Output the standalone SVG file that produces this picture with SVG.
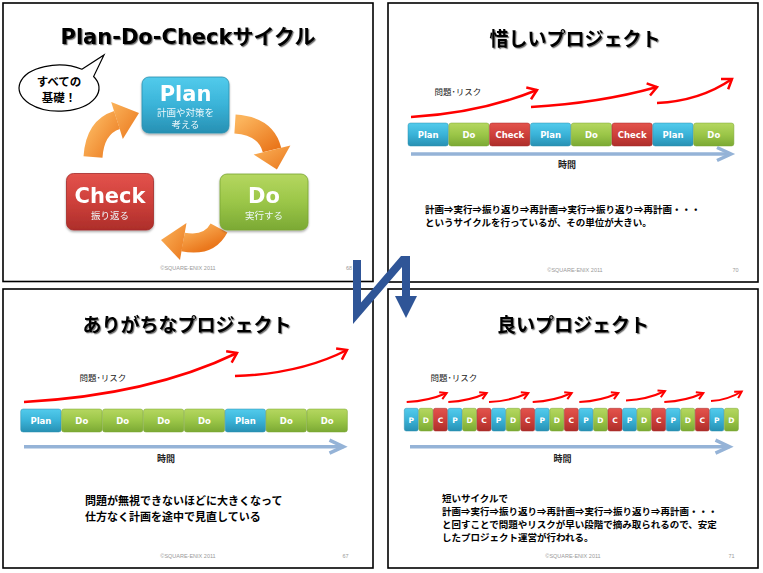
<svg xmlns="http://www.w3.org/2000/svg" width="763" height="573" viewBox="0 0 763 573">
<style>
.panel{fill:#fff;stroke:#000;stroke-width:1.6}
.ttl{font-family:"DejaVu Sans","Noto Sans CJK JP",sans-serif;font-weight:bold;font-size:21px;fill:#000;text-anchor:middle}
.jttl{font-family:"Noto Sans CJK JP",sans-serif;font-weight:bold;font-size:19px;fill:#000;text-anchor:middle}
.big{font-family:"DejaVu Sans",sans-serif;font-weight:bold;font-size:21px;fill:#fff;text-anchor:middle}
.sub{font-family:"Noto Sans CJK JP",sans-serif;font-size:9.5px;fill:#eef8fb;text-anchor:middle}
.bub{font-family:"Noto Sans CJK JP",sans-serif;font-weight:bold;font-size:11.5px;fill:#000;text-anchor:middle}
.blk{font-family:"DejaVu Sans",sans-serif;font-weight:bold;font-size:8.5px;fill:#fff;text-anchor:middle}
.sblk{font-family:"DejaVu Sans",sans-serif;font-weight:bold;font-size:7.5px;fill:#fff;text-anchor:middle}
.risk{font-family:"Noto Sans CJK JP",sans-serif;font-size:8.5px;fill:#222;text-anchor:middle}
.time{font-family:"Noto Sans CJK JP",sans-serif;font-weight:bold;font-size:9px;fill:#222;text-anchor:middle}
.body{font-family:"Noto Sans CJK JP",sans-serif;font-weight:bold;font-size:9.5px;fill:#000}
.body2{font-family:"Noto Sans CJK JP",sans-serif;font-weight:bold;font-size:11px;fill:#000}
.foot{font-family:"Liberation Sans",sans-serif;font-size:5.5px;fill:#999;text-anchor:middle}
.risk-ar{fill:none;stroke:#ff0000;stroke-width:2.5;marker-end:url(#mRed)}
.risk-sm{fill:none;stroke:#ff0000;stroke-width:2;marker-end:url(#mRedS)}
.time-ar{fill:none;stroke:#95B3D7;stroke-width:3.5;marker-end:url(#mTime)}
.bP{fill:url(#gBlue);stroke:#2a8fae;stroke-width:0.5}
.bD{fill:url(#gGreen);stroke:#79a532;stroke-width:0.5}
.bC{fill:url(#gRed);stroke:#a52b28;stroke-width:0.5}
.orng{fill:none;stroke:url(#gOrange);stroke-width:19}
.orngh{fill:url(#gOrange)}
</style>
<defs>
<linearGradient id="gBlue" x1="0" y1="0" x2="0" y2="1"><stop offset="0" stop-color="#52CBEC"/><stop offset="0.5" stop-color="#3AB3D8"/><stop offset="1" stop-color="#2790B3"/></linearGradient>
<linearGradient id="gGreen" x1="0" y1="0" x2="0" y2="1"><stop offset="0" stop-color="#B5D760"/><stop offset="0.5" stop-color="#9BC648"/><stop offset="1" stop-color="#7BA934"/></linearGradient>
<linearGradient id="gRed" x1="0" y1="0" x2="0" y2="1"><stop offset="0" stop-color="#E3534C"/><stop offset="0.5" stop-color="#CE403B"/><stop offset="1" stop-color="#AD2E2A"/></linearGradient>
<linearGradient id="gOrange" x1="0" y1="0" x2="1" y2="1"><stop offset="0" stop-color="#FBB45C"/><stop offset="1" stop-color="#EA771C"/></linearGradient>
<filter id="tsh" x="-10%" y="-30%" width="120%" height="160%"><feDropShadow dx="1.2" dy="1.2" stdDeviation="0.7" flood-color="#000" flood-opacity="0.55"/></filter>
<filter id="bsh" x="-10%" y="-10%" width="120%" height="130%"><feDropShadow dx="0" dy="1.5" stdDeviation="1" flood-color="#000" flood-opacity="0.35"/></filter>
<marker id="mRed" viewBox="-12 -8 14 16" refX="0" refY="0" markerWidth="14" markerHeight="16" orient="auto" markerUnits="userSpaceOnUse" style="overflow:visible"><path d="M-9,-6.3 L0,0 L-9,6.3" fill="none" stroke="#ff0000" stroke-width="2.5"/></marker>
<marker id="mRedS" viewBox="-8 -5 10 10" refX="0" refY="0" markerWidth="10" markerHeight="10" orient="auto" markerUnits="userSpaceOnUse" style="overflow:visible"><path d="M-6.5,-3.8 L0,0 L-6.5,3.8" fill="none" stroke="#ff0000" stroke-width="2"/></marker>
<marker id="mTime" viewBox="-16 -8 18 16" refX="0" refY="0" markerWidth="18" markerHeight="16" orient="auto" markerUnits="userSpaceOnUse" style="overflow:visible"><path d="M-14,-6.5 L0,0 L-14,6.5" fill="none" stroke="#95B3D7" stroke-width="3.5"/></marker>
</defs>

<rect width="763" height="573" fill="#fff"/>

<!-- Panel 1: Plan-Do-Check cycle -->
<g id="panel1">
<rect class="panel" x="3" y="3" width="370" height="278.5"/>
<text class="ttl" x="188" y="44" filter="url(#tsh)">Plan-Do-Checkサイクル</text>
<g id="bubble">
<path d="M81.9,69.2 L104,55 L93.6,76.5 A40,23 0 1 1 81.9,69.2 Z" fill="#fff" stroke="#000" stroke-width="1.2"/>
<text class="bub" x="59" y="86">すべての<tspan x="59" dy="15.5">基礎！</tspan></text>
</g>
<g id="cycle-connectors">
<path class="orng" d="M93,157 Q95,127 117,120"/>
<polygon class="orngh" points="111.2,101.9 139,113 122.8,139"/>
<path class="orng" d="M235,124 Q266,126 272,150"/>
<polygon class="orngh" points="290.4,145.4 276.9,169.4 253.6,154.6"/>
<path class="orng" d="M219,228 Q209,247 183,242"/>
<polygon class="orngh" points="186.5,223 161,240 180,260"/>
</g>
<g id="node-plan" filter="url(#bsh)">
<rect x="142" y="77" width="87" height="56" rx="7" fill="url(#gBlue)" stroke="#2a8fae" stroke-width="0.8"/>
<text class="big" x="185.5" y="100.5">Plan</text>
<text class="sub" x="185.5" y="115.5">計画や対策を<tspan x="185.5" dy="12.8">考える</tspan></text>
</g>
<g id="node-check" filter="url(#bsh)">
<rect x="66.5" y="173.5" width="87" height="56.5" rx="7" fill="url(#gRed)" stroke="#a52b28" stroke-width="0.8"/>
<text class="big" x="110" y="202.5">Check</text>
<text class="sub" x="110" y="218.5">振り返る</text>
</g>
<g id="node-do" filter="url(#bsh)">
<rect x="220" y="174" width="88" height="56" rx="7" fill="url(#gGreen)" stroke="#79a532" stroke-width="0.8"/>
<text class="big" x="264" y="202.5">Do</text>
<text class="sub" x="264" y="218.5">実行する</text>
</g>
<text class="foot" x="188" y="270">©SQUARE-ENIX 2011</text>
<text class="foot" x="349" y="270">68</text>
</g>

<!-- Panel 2: 惜しいプロジェクト -->
<g id="panel2">
<rect class="panel" x="388" y="3" width="370" height="279"/>
<text class="jttl" x="575" y="46" filter="url(#tsh)">惜しいプロジェクト</text>
<text class="risk" x="458" y="95">問題･リスク</text>
<g id="p2-risk-arrows">
<path class="risk-ar" d="M411,117 Q480,113 537,90"/>
<path class="risk-ar" d="M531,107 Q600,103 657,87"/>
<path class="risk-ar" d="M657,103 Q700,101 732,79"/>
</g>
<g id="p2-blocks">
<rect class="bP" x="408" y="123" width="40.3" height="23" rx="2.5"/><text class="blk" x="428.2" y="137.6">Plan</text>
<rect class="bD" x="448.8" y="123" width="40.3" height="23" rx="2.5"/><text class="blk" x="469" y="137.6">Do</text>
<rect class="bC" x="489.6" y="123" width="40.3" height="23" rx="2.5"/><text class="blk" x="509.8" y="137.6">Check</text>
<rect class="bP" x="530.4" y="123" width="40.3" height="23" rx="2.5"/><text class="blk" x="550.6" y="137.6">Plan</text>
<rect class="bD" x="571.2" y="123" width="40.3" height="23" rx="2.5"/><text class="blk" x="591.4" y="137.6">Do</text>
<rect class="bC" x="612" y="123" width="40.3" height="23" rx="2.5"/><text class="blk" x="632.2" y="137.6">Check</text>
<rect class="bP" x="652.8" y="123" width="40.3" height="23" rx="2.5"/><text class="blk" x="673" y="137.6">Plan</text>
<rect class="bD" x="693.6" y="123" width="40.3" height="23" rx="2.5"/><text class="blk" x="713.8" y="137.6">Do</text>
</g>
<path class="time-ar" d="M411,154 L731,154"/>
<text class="time" x="567" y="168">時間</text>
<text class="body" x="425" y="213">計画⇒実行⇒振り返り⇒再計画⇒実行⇒振り返り⇒再計画・・・<tspan x="425" dy="13">というサイクルを行っているが、その単位が大きい。</tspan></text>
<text class="foot" x="575" y="272">©SQUARE-ENIX 2011</text>
<text class="foot" x="735.5" y="272">70</text>
</g>

<!-- Panel 3: ありがちなプロジェクト -->
<g id="panel3">
<rect class="panel" x="3" y="289" width="370" height="279"/>
<text class="jttl" x="187" y="331.5" filter="url(#tsh)">ありがちなプロジェクト</text>
<text class="risk" x="103" y="381">問題･リスク</text>
<g id="p3-risk-arrows">
<path class="risk-ar" d="M24,402 Q150,395 237,353"/>
<path class="risk-ar" d="M235,376 Q300,374 347,350"/>
</g>
<g id="p3-blocks">
<rect class="bP" x="20.7" y="409" width="40.4" height="23" rx="2.5"/><text class="blk" x="40.9" y="423.6">Plan</text>
<rect class="bD" x="61.6" y="409" width="40.4" height="23" rx="2.5"/><text class="blk" x="81.8" y="423.6">Do</text>
<rect class="bD" x="102.5" y="409" width="40.4" height="23" rx="2.5"/><text class="blk" x="122.7" y="423.6">Do</text>
<rect class="bD" x="143.4" y="409" width="40.4" height="23" rx="2.5"/><text class="blk" x="163.6" y="423.6">Do</text>
<rect class="bD" x="184.3" y="409" width="40.4" height="23" rx="2.5"/><text class="blk" x="204.5" y="423.6">Do</text>
<rect class="bP" x="225.2" y="409" width="40.4" height="23" rx="2.5"/><text class="blk" x="245.4" y="423.6">Plan</text>
<rect class="bD" x="266.1" y="409" width="40.4" height="23" rx="2.5"/><text class="blk" x="286.3" y="423.6">Do</text>
<rect class="bD" x="307" y="409" width="40.4" height="23" rx="2.5"/><text class="blk" x="327.2" y="423.6">Do</text>
</g>
<path class="time-ar" d="M24,446.7 L343.5,446.7"/>
<text class="time" x="166" y="461.5">時間</text>
<text class="body2" x="85" y="505">問題が無視できないほどに大きくなって<tspan x="85" dy="16">仕方なく計画を途中で見直している</tspan></text>
<text class="foot" x="188" y="558">©SQUARE-ENIX 2011</text>
<text class="foot" x="345.5" y="558">67</text>
</g>

<!-- Panel 4: 良いプロジェクト -->
<g id="panel4">
<rect class="panel" x="388" y="289" width="370" height="279"/>
<text class="jttl" x="573" y="331.5" filter="url(#tsh)">良いプロジェクト</text>
<text class="risk" x="454" y="381">問題･リスク</text>
<g id="p4-risk-arrows">
<path class="risk-sm" d="M406.7,402 Q428.7,401 446.7,393"/>
<path class="risk-sm" d="M448.3,402 Q469.3,401 486.7,393"/>
<path class="risk-sm" d="M489,402 Q510.6,401 528.3,393"/>
<path class="risk-sm" d="M532.7,402 Q554.2,401 571.7,393"/>
<path class="risk-sm" d="M579.3,402 Q600.8,401 618.3,393"/>
<path class="risk-sm" d="M626,400.5 Q647.5,399.5 665,391"/>
<path class="risk-sm" d="M664.3,402 Q685.8,401 703.3,393"/>
<path class="risk-sm" d="M711,401 Q728,400 741.7,391.5"/>
</g>
<g id="p4-blocks">
<rect class="bP" x="404.3" y="408.3" width="14" height="22.7" rx="2"/><text class="sblk" x="411.3" y="422.5">P</text>
<rect class="bD" x="418.85" y="408.3" width="14" height="22.7" rx="2"/><text class="sblk" x="425.85" y="422.5">D</text>
<rect class="bC" x="433.4" y="408.3" width="14" height="22.7" rx="2"/><text class="sblk" x="440.4" y="422.5">C</text>
<rect class="bP" x="447.95" y="408.3" width="14" height="22.7" rx="2"/><text class="sblk" x="454.95" y="422.5">P</text>
<rect class="bD" x="462.5" y="408.3" width="14" height="22.7" rx="2"/><text class="sblk" x="469.5" y="422.5">D</text>
<rect class="bC" x="477.05" y="408.3" width="14" height="22.7" rx="2"/><text class="sblk" x="484.05" y="422.5">C</text>
<rect class="bP" x="491.6" y="408.3" width="14" height="22.7" rx="2"/><text class="sblk" x="498.6" y="422.5">P</text>
<rect class="bD" x="506.15" y="408.3" width="14" height="22.7" rx="2"/><text class="sblk" x="513.15" y="422.5">D</text>
<rect class="bC" x="520.7" y="408.3" width="14" height="22.7" rx="2"/><text class="sblk" x="527.7" y="422.5">C</text>
<rect class="bP" x="535.25" y="408.3" width="14" height="22.7" rx="2"/><text class="sblk" x="542.25" y="422.5">P</text>
<rect class="bD" x="549.8" y="408.3" width="14" height="22.7" rx="2"/><text class="sblk" x="556.8" y="422.5">D</text>
<rect class="bC" x="564.35" y="408.3" width="14" height="22.7" rx="2"/><text class="sblk" x="571.35" y="422.5">C</text>
<rect class="bP" x="578.9" y="408.3" width="14" height="22.7" rx="2"/><text class="sblk" x="585.9" y="422.5">P</text>
<rect class="bD" x="593.45" y="408.3" width="14" height="22.7" rx="2"/><text class="sblk" x="600.45" y="422.5">D</text>
<rect class="bC" x="608" y="408.3" width="14" height="22.7" rx="2"/><text class="sblk" x="615" y="422.5">C</text>
<rect class="bP" x="622.55" y="408.3" width="14" height="22.7" rx="2"/><text class="sblk" x="629.55" y="422.5">P</text>
<rect class="bD" x="637.1" y="408.3" width="14" height="22.7" rx="2"/><text class="sblk" x="644.1" y="422.5">D</text>
<rect class="bC" x="651.65" y="408.3" width="14" height="22.7" rx="2"/><text class="sblk" x="658.65" y="422.5">C</text>
<rect class="bP" x="666.2" y="408.3" width="14" height="22.7" rx="2"/><text class="sblk" x="673.2" y="422.5">P</text>
<rect class="bD" x="680.75" y="408.3" width="14" height="22.7" rx="2"/><text class="sblk" x="687.75" y="422.5">D</text>
<rect class="bC" x="695.3" y="408.3" width="14" height="22.7" rx="2"/><text class="sblk" x="702.3" y="422.5">C</text>
<rect class="bP" x="709.85" y="408.3" width="14" height="22.7" rx="2"/><text class="sblk" x="716.85" y="422.5">P</text>
<rect class="bD" x="724.4" y="408.3" width="14" height="22.7" rx="2"/><text class="sblk" x="731.4" y="422.5">D</text>
</g>
<path class="time-ar" d="M410,446.7 L729.5,446.7"/>
<text class="time" x="562.5" y="461.5">時間</text>
<text class="body" x="442" y="501.5">短いサイクルで<tspan x="442" dy="13.5">計画⇒実行⇒振り返り⇒再計画⇒実行⇒振り返り⇒再計画・・・</tspan><tspan x="442" dy="13">と回すことで問題やリスクが早い段階で摘み取られるので、安定</tspan><tspan x="442" dy="12.5">したプロジェクト運営が行われる。</tspan></text>
<text class="foot" x="573" y="558">©SQUARE-ENIX 2011</text>
<text class="foot" x="731.5" y="558">71</text>
</g>

<!-- Connector between slides: zig-zag arrow -->
<g id="connectors">
<polygon points="353,260 361,260 361,302.4 401,256 410,256 410,296 417,296 406,318 395,296 402,296 402,267 353,324" fill="#2F5597"/>
</g>
</svg>
